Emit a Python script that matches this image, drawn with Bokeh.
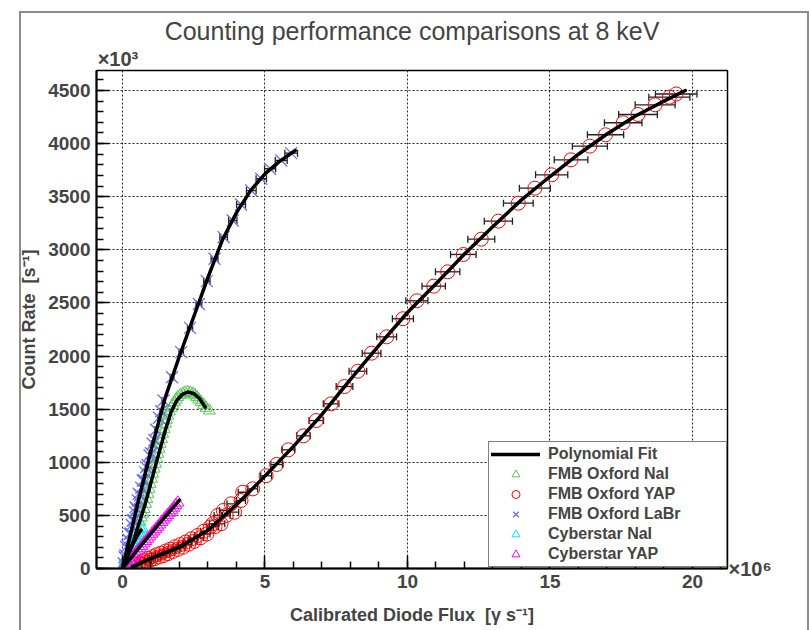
from bokeh.plotting import figure
from bokeh.models import (Range1d, SingleIntervalTicker, FixedTicker, LinearAxis, Legend,
                          LegendItem, Whisker, ColumnDataSource, TeeHead, InlineStyleSheet)
from bokeh.embed import file_html
from bokeh.resources import INLINE

# ---------------- data (x in 1e6 gamma/s, y in 1e3 counts/s) ----------------
nai_x = [0.05, 0.12, 0.20, 0.28, 0.36, 0.44, 0.52, 0.60, 0.66, 0.71, 0.76, 0.81, 0.85, 0.89, 0.93,
         0.97, 1.02, 1.06, 1.11, 1.16, 1.20, 1.24, 1.28, 1.32, 1.37, 1.41, 1.46, 1.51, 1.55, 1.59,
         1.65, 1.71, 1.76, 1.82, 1.88, 1.94, 2.03, 2.12, 2.20, 2.29, 2.38, 2.47, 2.54, 2.61, 2.68,
         2.76, 2.85, 2.93, 3.05]
nai_y = [30, 75, 130, 190, 250, 310, 375, 440, 480, 515, 560, 609, 655, 703, 750,
         797, 845, 892, 940, 986, 1035, 1080, 1128, 1174, 1220, 1268, 1315, 1362, 1400, 1440,
         1478, 1513, 1540, 1566, 1590, 1613, 1632, 1645, 1655, 1660, 1655, 1645, 1630, 1613, 1590,
         1566, 1540, 1513, 1487]
nai_fit_x = [0.0, 0.4, 0.8, 1.2, 1.5, 1.7, 1.9, 2.1, 2.3, 2.5, 2.7, 2.9]
nai_fit_y = [0, 270, 610, 1010, 1300, 1470, 1580, 1640, 1662, 1648, 1600, 1520]

yap_x = [0.30, 0.38, 0.45, 0.52, 0.60, 0.68, 0.75, 0.83, 0.90, 0.98, 1.05, 1.12, 1.20, 1.28, 1.36,
         1.44, 1.52, 1.60, 1.68, 1.76, 1.85, 1.94, 2.03, 2.12, 2.22, 2.32, 2.42, 2.52, 2.63, 2.74,
         2.85, 2.96, 3.08, 3.17, 3.25, 3.34, 3.46, 3.54, 3.64, 3.81, 3.93, 4.16, 4.22, 4.57, 5.04,
         5.41, 5.82, 6.35, 6.80, 7.32, 7.79, 8.26, 8.74, 9.27, 9.84, 10.33, 10.92, 11.41, 11.96, 12.59,
         13.19, 13.89, 14.47, 15.06, 15.74, 16.40, 16.95, 17.57, 18.09, 18.69, 19.19, 19.43]
yap_y = [25, 10, 40, 25, 55, 40, 75, 60, 95, 80, 112, 92, 130, 108, 145,
         122, 165, 140, 182, 160, 205, 180, 225, 200, 250, 228, 280, 255, 310, 290,
         350, 325, 392, 421, 395, 499, 421, 546, 499, 609, 530, 640, 718, 750, 873,
         979, 1117, 1249, 1393, 1550, 1713, 1857, 2027, 2181, 2351, 2520, 2658, 2793, 2956, 3100,
         3270, 3439, 3580, 3706, 3847, 3976, 4083, 4196, 4274, 4365, 4437, 4467]
yap_fit_x = [0.35, 1.0, 2.0, 3.0, 4.0, 5.0, 6.0, 7.0, 8.0, 9.0, 10.0, 11.0, 12.0, 13.0, 14.0,
             15.0, 16.0, 17.0, 18.0, 19.0, 19.75]
yap_fit_y = [15, 95, 200, 360, 600, 870, 1150, 1450, 1780, 2100, 2410, 2680, 2960, 3220, 3470,
             3690, 3900, 4090, 4260, 4400, 4500]

labr_x = [0.04, 0.07, 0.10, 0.13, 0.17, 0.21, 0.25, 0.29, 0.33, 0.36, 0.40, 0.44, 0.46, 0.50, 0.54,
          0.57, 0.62, 0.66, 0.71, 0.76, 0.80, 0.83, 0.88, 0.95, 1.00, 1.06, 1.12, 1.18, 1.28, 1.36,
          1.44, 1.74, 2.06, 2.37, 2.68, 2.96, 3.23, 3.55, 3.87, 4.16, 4.52, 4.87, 5.18, 5.57, 5.92]
labr_y = [50, 106, 125, 201, 215, 270, 327, 330, 410, 452, 455, 530, 577, 560, 640,
          703, 690, 760, 828, 830, 905, 954, 975, 1064, 1085, 1174, 1210, 1306, 1419, 1480,
          1581, 1801, 2037, 2265, 2490, 2705, 2916, 3119, 3276, 3427, 3558, 3669, 3763, 3841, 3910]
labr_fit_x = [0.0, 0.5, 1.0, 1.5, 2.0, 2.5, 3.0, 3.5, 4.0, 4.5, 5.0, 5.5, 6.06]
labr_fit_y = [0, 570, 1110, 1610, 2000, 2370, 2740, 3090, 3350, 3560, 3715, 3830, 3935]

cnai_x = [0.00, 0.04, 0.08, 0.12, 0.16, 0.20, 0.24, 0.28, 0.32, 0.36, 0.40, 0.44, 0.48, 0.52, 0.56,
          0.60, 0.64, 0.68]
cnai_y = [0, 28, 55, 80, 106, 130, 155, 178, 200, 224, 246, 268, 290, 310, 330, 350, 372, 385]
cnai_fit_x = [0.0, 0.2, 0.4, 0.55, 0.65]
cnai_fit_y = [0, 128, 248, 322, 362]

cyap_x = [0.00, 0.06, 0.12, 0.19, 0.26, 0.33, 0.40, 0.47, 0.54, 0.61, 0.68, 0.75, 0.82, 0.89, 0.96,
          1.03, 1.10, 1.17, 1.24, 1.31, 1.38, 1.45, 1.52, 1.59, 1.66, 1.73, 1.80, 1.87, 1.94]
cyap_y = [0, 15, 33, 55, 78, 100, 122, 146, 168, 190, 212, 236, 258, 280, 302,
          326, 348, 370, 392, 414, 438, 460, 482, 504, 526, 548, 572, 596, 620]
cyap_fit_x = [0.0, 0.5, 1.0, 1.5, 2.0]
cyap_fit_y = [0, 168, 330, 488, 643]

flux_rel_err = 0.0375   # relative uncertainty of the calibrated diode flux

x_ticks_interval = 5
y_ticks_interval = 500
x_exponent_label = "\u00d710\u2076"
y_exponent_label = "\u00d710\u00b3"

FONT = "Liberation Sans"

p = figure(frame_width=631, frame_height=498,
           min_border_left=96, min_border_right=80, min_border_top=70, min_border_bottom=61,
           x_range=Range1d(-0.912, 21.23), y_range=Range1d(0, 4688),
           output_backend="svg", toolbar_location=None,
           title="Counting performance comparisons at 8 keV")
p.background_fill_color = "white"
p.border_fill_color = "white"
p.outline_line_color = "black"
p.outline_line_width = 1.5

# grey canvas border of the original (pure decoration, drawn by CSS)
p.stylesheets = [InlineStyleSheet(css="""
:host::after {
  content: '';
  position: absolute;
  left: 19px; top: 11px; width: 790px; height: 619px;
  border: 2px solid #8c8c8c; border-bottom: none;
  box-sizing: border-box; pointer-events: none; z-index: 10;
}
""")]

p.title.align = "center"
p.title.text_font = FONT
p.title.text_font_style = "normal"
p.title.text_font_size = "25px"
p.title.standoff = 0

for ax, interval in ((p.xaxis[0], x_ticks_interval), (p.yaxis[0], y_ticks_interval)):
    ax.ticker = SingleIntervalTicker(interval=interval, num_minor_ticks=5)
    ax.major_tick_in = 13
    ax.major_tick_out = 0
    ax.minor_tick_in = 7
    ax.minor_tick_out = 0
    ax.axis_line_width = 2
    ax.major_tick_line_width = 1.5
    ax.minor_tick_line_width = 1.5
    ax.major_label_text_font = FONT
    ax.major_label_text_font_style = "bold"
    ax.major_label_text_font_size = "19px"
    ax.axis_label_text_font = FONT
    ax.axis_label_text_font_style = "bold"
    ax.axis_label_text_font_size = "18px"

p.xaxis[0].axis_label = "Calibrated Diode Flux\u00a0 [\u03b3 s\u207b\u00b9]"
p.yaxis[0].axis_label = "Count Rate\u00a0 [s\u207b\u00b9]"
p.xaxis[0].major_label_standoff = 6
p.xaxis[0].axis_label_standoff = 14
p.yaxis[0].major_label_standoff = 6
p.yaxis[0].axis_label_standoff = 6

# exponent labels drawn as single-tick axes outside the frame
top_ax = LinearAxis(ticker=FixedTicker(ticks=[-0.16]),
                    major_label_overrides={-0.16: y_exponent_label})
right_ax = LinearAxis(ticker=FixedTicker(ticks=[0]),
                      major_label_overrides={0: x_exponent_label})
for ax in (top_ax, right_ax):
    ax.axis_line_color = None
    ax.major_tick_line_color = None
    ax.minor_tick_line_color = None
    ax.major_tick_out = 0
    ax.major_tick_in = 0
    ax.minor_tick_out = 0
    ax.minor_tick_in = 0
    ax.major_label_standoff = 1
    ax.major_label_text_font = FONT
    ax.major_label_text_font_style = "bold"
    ax.major_label_text_font_size = "20px"
p.add_layout(top_ax, "above")
p.add_layout(right_ax, "right")

for g in (p.xgrid[0], p.ygrid[0]):
    g.grid_line_color = "black"
    g.grid_line_dash = "2 2"
    g.grid_line_width = 1
    g.grid_line_alpha = 0.85

# error bars
def add_xerr(xs, ys):
    lo = [x - x * flux_rel_err for x in xs]
    hi = [x + x * flux_rel_err for x in xs]
    src = ColumnDataSource(dict(base=ys, lower=lo, upper=hi))
    w = Whisker(source=src, base="base", lower="lower", upper="upper", dimension="width",
                line_color="#222222", line_width=1.3,
                upper_head=TeeHead(size=7, line_color="#222222", line_width=1.3),
                lower_head=TeeHead(size=7, line_color="#222222", line_width=1.3))
    p.add_layout(w)

add_xerr(yap_x, yap_y)
add_xerr(labr_x, labr_y)

r_nai = p.scatter(nai_x, nai_y, marker="triangle", size=12, fill_color=None,
                  line_color="#55c855", line_width=1)
r_yap = p.scatter(yap_x, yap_y, marker="circle", size=14, fill_color=None,
                  line_color="#ff0000", line_width=1)
r_labr = p.scatter(labr_x, labr_y, marker="x", size=17,
                   line_color="#6e6ef5", line_width=1.3)
r_cnai = p.scatter(cnai_x, cnai_y, marker="triangle", size=12, fill_color=None,
                   line_color="#00e5f5", line_width=1)
r_cyap = p.scatter(cyap_x, cyap_y, marker="triangle", size=12, fill_color=None,
                   line_color="#ff00ff", line_width=1)

fit_kw = dict(line_color="black", line_width=3.5, line_join="round", line_cap="round")
r_fit = p.line(yap_fit_x, yap_fit_y, **fit_kw)
p.line(labr_fit_x, labr_fit_y, **fit_kw)
p.line(nai_fit_x, nai_fit_y, **fit_kw)
p.line(cnai_fit_x, cnai_fit_y, **fit_kw)
p.line(cyap_fit_x, cyap_fit_y, **fit_kw)

legend = Legend(items=[
    LegendItem(label="Polynomial Fit", renderers=[r_fit]),
    LegendItem(label="FMB Oxford NaI", renderers=[r_nai]),
    LegendItem(label="FMB Oxford YAP", renderers=[r_yap]),
    LegendItem(label="FMB Oxford LaBr", renderers=[r_labr]),
    LegendItem(label="Cyberstar NaI", renderers=[r_cnai]),
    LegendItem(label="Cyberstar YAP", renderers=[r_cyap]),
], location=(392, 1))
legend.padding = 2
legend.margin = 0
legend.spacing = 0
legend.glyph_height = 20
legend.label_height = 20
legend.glyph_width = 49
legend.label_standoff = 8
legend.label_width = 176
legend.label_text_font = FONT
legend.label_text_font_style = "bold"
legend.label_text_font_size = "16px"
legend.border_line_color = "black"
legend.border_line_width = 1
legend.background_fill_color = "white"
legend.background_fill_alpha = 1
p.add_layout(legend, "center")

open("out.html", "w").write(file_html(p, INLINE))
